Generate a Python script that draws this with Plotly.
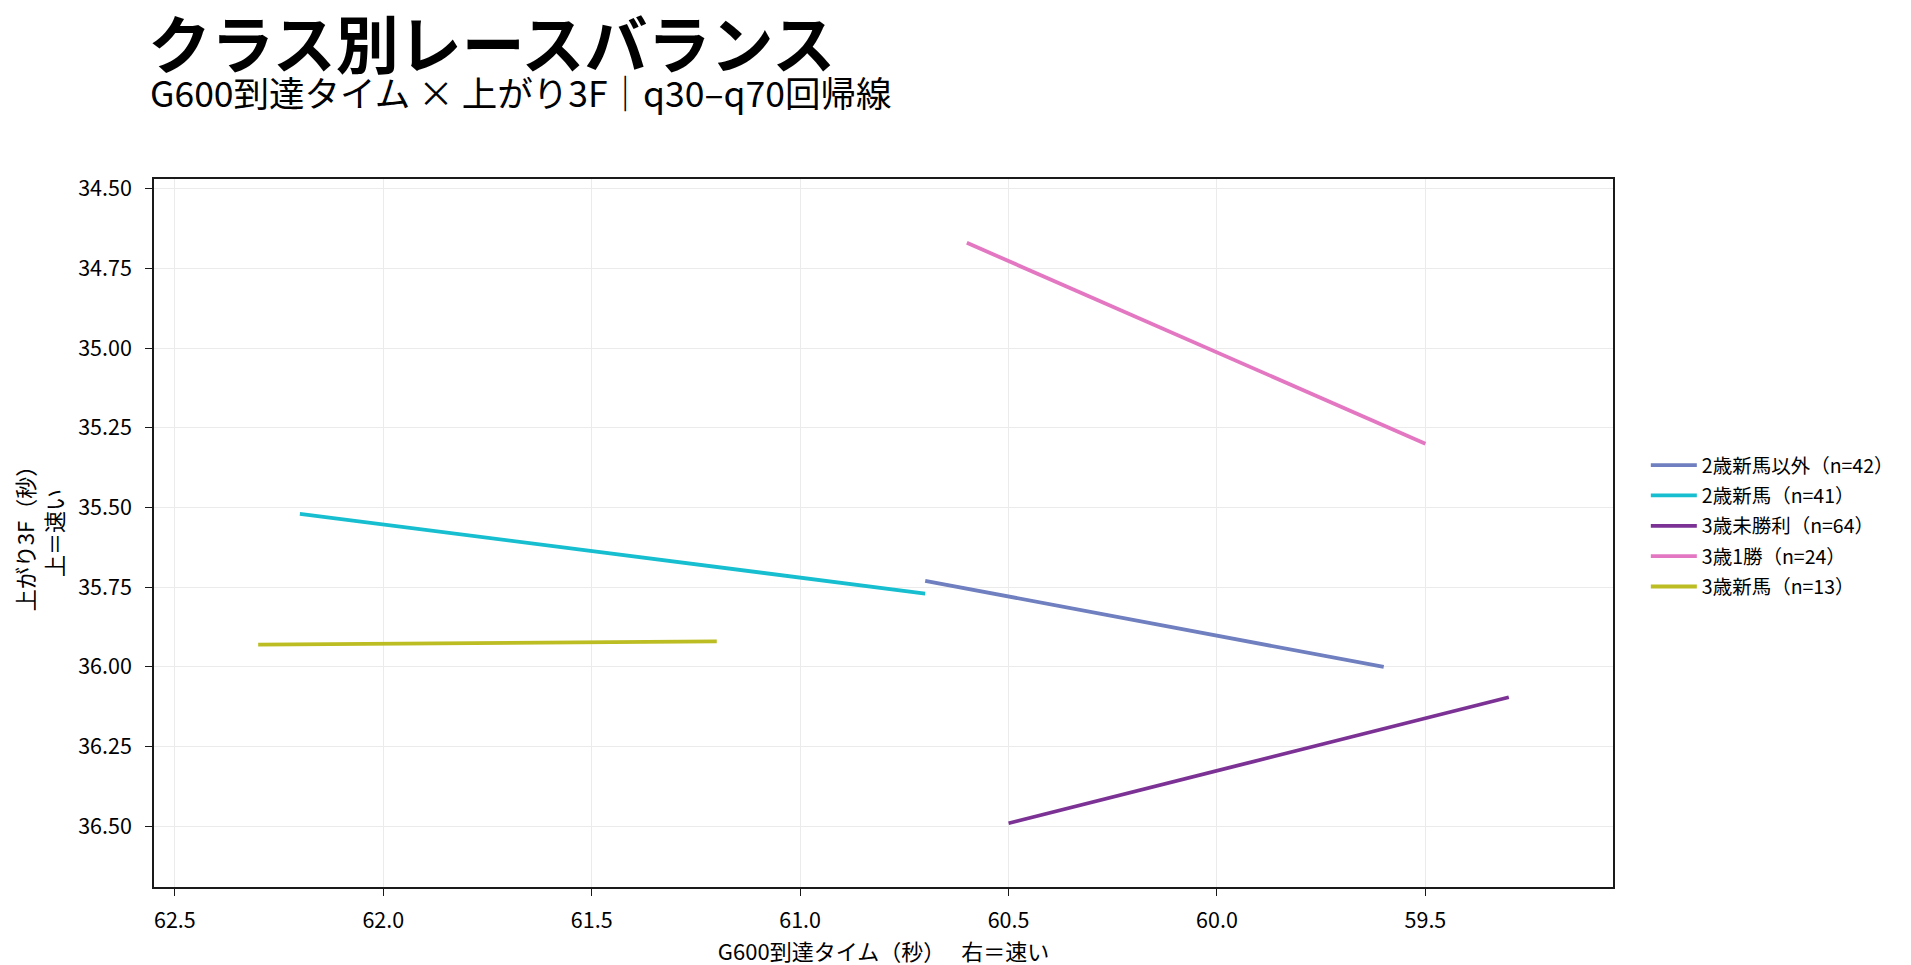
import plotly.graph_objects as go

# ==== DATA (q30-q70 regression line endpoints) ====
classes = ["2歳新馬以外", "2歳新馬", "3歳未勝利", "3歳1勝", "3歳新馬"]
counts = [42, 41, 64, 24, 13]
g600_start = [60.70, 62.20, 60.50, 60.60, 62.30]
g600_end = [59.60, 60.70, 59.30, 59.50, 61.20]
agari_start = [35.73, 35.52, 36.49, 34.67, 35.93]
agari_end = [36.00, 35.77, 36.095, 35.30, 35.92]

colors = ["#6f7fbf", "#17becf", "#7b3294", "#e377c2", "#bcbd22"]

FONT = "Noto Sans CJK JP"

fig = go.Figure()

for i, name in enumerate(classes):
    fig.add_trace(go.Scatter(
        x=[g600_start[i], g600_end[i]],
        y=[agari_start[i], agari_end[i]],
        mode="lines",
        name=f"{name}（n={counts[i]}）",
        legendgroup=name,
        line=dict(color=colors[i], width=3.8),
    ))

axis_common = dict(
    showline=True, linecolor="#1a1a1a", linewidth=1.6, mirror=True,
    ticks="outside", ticklen=7, tickcolor="#1a1a1a", tickwidth=1.4,
    showgrid=True, gridcolor="#ebebeb", gridwidth=1,
    zeroline=False,
    tickfont=dict(family=FONT, size=21.5, color="black"),
)

fig.update_layout(
    width=1911, height=965,
    margin=dict(l=146, r=306, t=171, b=86),
    paper_bgcolor="white", plot_bgcolor="white",
    font=dict(family=FONT, color="black"),
    title=dict(
        text="<b>クラス別レースバランス</b>",
        font=dict(family=FONT, size=63, color="black"),
        x=140 / 1911, xanchor="left",
        y=1 - 38 / 965, yanchor="middle",
    ),
    xaxis=dict(
        **axis_common,
        range=[62.55, 59.05],
        dtick=0.5, tickformat=".1f",
        ticklabelstandoff=6,
        title=dict(text="G600到達タイム（秒）　 右＝速い",
                   font=dict(family=FONT, size=22), standoff=0),
    ),
    yaxis=dict(
        **axis_common,
        range=[36.69, 34.47],
        dtick=0.25, tickformat=".2f",
        ticklabelstandoff=9,
        title=dict(text="上がり3F（秒）<br>上＝速い",
                   font=dict(family=FONT, size=22), standoff=13),
    ),
    legend=dict(
        x=1.0225, xanchor="left", y=0.51, yanchor="middle",
        font=dict(family=FONT, size=19.5, color="black"),
        tracegroupgap=2, itemwidth=46, bgcolor="rgba(0,0,0,0)",
    ),
    showlegend=True,
)

fig.add_annotation(
    text="G600到達タイム × 上がり3F｜q30–q70回帰線",
    xref="paper", yref="paper",
    x=-6 / 1459, xanchor="left",
    y=1 + (171 - 83) / 708, yanchor="middle",
    showarrow=False,
    font=dict(family=FONT, size=35.5, color="black"),
)

fig.write_html("out.html")
